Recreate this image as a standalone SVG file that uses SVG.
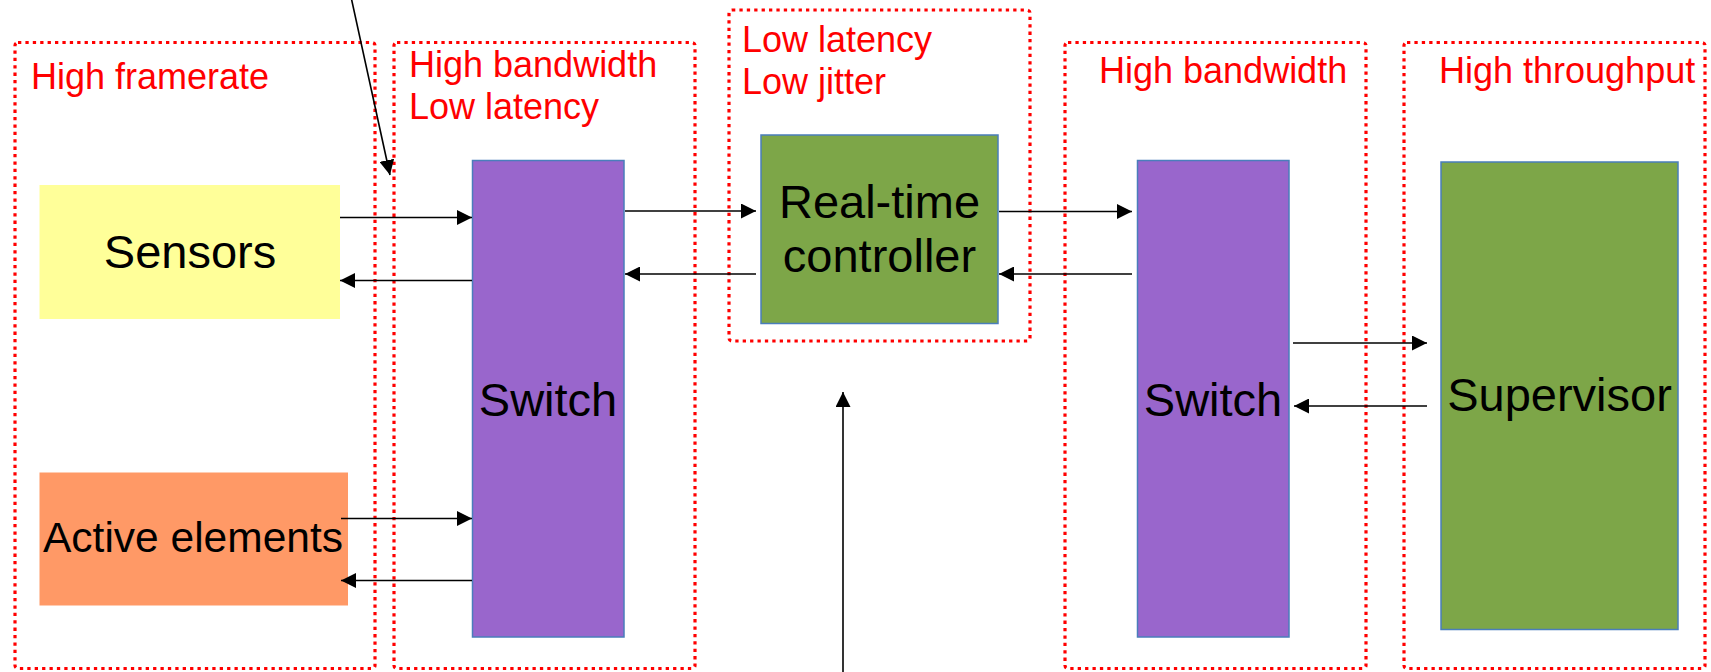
<svg xmlns="http://www.w3.org/2000/svg" width="1711" height="672" viewBox="0 0 1711 672">
<style>
.zone{fill:none;stroke:#FF0000;stroke-width:3.2;stroke-dasharray:3.3 4.1}
.zl{font-family:"Liberation Sans",Arial,sans-serif;font-size:36px;fill:#FF0000}
.nl{font-family:"Liberation Sans",Arial,sans-serif;font-size:47px;fill:#000;text-anchor:middle}
.sw{fill:#9966CC;stroke:#4A7EBB;stroke-width:1.5}
.gr{fill:#7DA648;stroke:#4A7EBB;stroke-width:1.5}
.c{stroke:#000;stroke-width:1.6;fill:none;marker-end:url(#ah)}
</style>
<defs>
<marker id="ah" markerUnits="userSpaceOnUse" viewBox="0 0 15 15" refX="15" refY="7.5" markerWidth="15" markerHeight="15" orient="auto">
<path d="M0,0 L15,7.5 L0,15 z" fill="#000"/>
</marker>
</defs>
<rect width="1711" height="672" fill="#fff"/>
<g id="zones">
<g id="zone-framerate"><rect class="zone" x="15" y="42.5" width="360" height="626" rx="3"/><text class="zl" x="31" y="89">High framerate</text></g>
<g id="zone-bw-latency"><rect class="zone" x="394" y="42.5" width="301" height="626" rx="3"/><text class="zl" x="409" y="77">High bandwidth</text><text class="zl" x="409" y="119">Low latency</text></g>
<g id="zone-latency-jitter"><rect class="zone" x="729" y="10" width="301" height="331" rx="3"/><text class="zl" x="742" y="52">Low latency</text><text class="zl" x="742" y="94">Low jitter</text></g>
<g id="zone-bw"><rect class="zone" x="1065" y="42.5" width="301" height="626" rx="3"/><text class="zl" x="1099" y="83">High bandwidth</text></g>
<g id="zone-throughput"><rect class="zone" x="1404" y="42.5" width="301" height="626" rx="3"/><text class="zl" x="1439" y="83">High throughput</text></g>
</g>
<g id="sensors"><rect x="39.5" y="185" width="300.5" height="134" fill="#FFFF99"/><text class="nl" x="190" y="268">Sensors</text></g>
<g id="active-elements"><rect x="39.5" y="472.5" width="308.5" height="133" fill="#FF9966"/><text class="nl" x="193" y="552" style="font-size:42.5px">Active elements</text></g>
<g id="switch-left"><rect class="sw" x="472.5" y="160.5" width="151.5" height="476.5"/><text class="nl" x="548" y="416">Switch</text></g>
<g id="rt-controller"><rect class="gr" x="761" y="135" width="237" height="188.5"/><text class="nl" x="879.5" y="218">Real-time</text><text class="nl" x="879.5" y="272">controller</text></g>
<g id="switch-right"><rect class="sw" x="1137.5" y="160.5" width="151.5" height="476.5"/><text class="nl" x="1213" y="416">Switch</text></g>
<g id="supervisor"><rect class="gr" x="1441" y="162" width="237" height="467.5"/><text class="nl" x="1559.5" y="411">Supervisor</text></g>
<g id="connectors">
<line class="c" x1="340" y1="217.5" x2="472" y2="217.5"/>
<line class="c" x1="472" y1="280.5" x2="340" y2="280.5"/>
<line class="c" x1="341" y1="518.5" x2="472" y2="518.5"/>
<line class="c" x1="472" y1="580.5" x2="341" y2="580.5"/>
<line class="c" x1="625" y1="211" x2="756" y2="211"/>
<line class="c" x1="756" y1="274" x2="625" y2="274"/>
<line class="c" x1="999" y1="211.5" x2="1132" y2="211.5"/>
<line class="c" x1="1132" y1="274" x2="999" y2="274"/>
<line class="c" x1="1293" y1="343" x2="1427" y2="343"/>
<line class="c" x1="1427" y1="406" x2="1294" y2="406"/>
<line class="c" x1="350.6" y1="-5" x2="390" y2="175"/>
<line class="c" x1="843" y1="680" x2="843" y2="392"/>
</g>
</svg>
